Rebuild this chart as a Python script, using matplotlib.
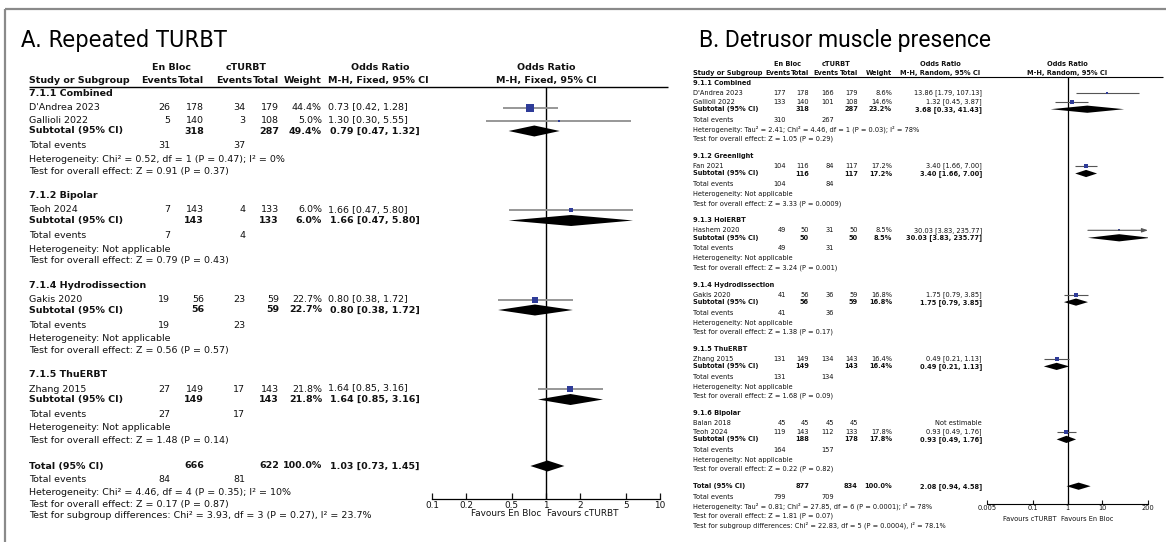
import os
import matplotlib
matplotlib.use("Agg")
import matplotlib.pyplot as plt
import matplotlib.font_manager as fm
from matplotlib import transforms
from matplotlib.ticker import NullLocator
import numpy as np

# ---------------- Panel A data : Repeated TURBT ----------------
A_title = "A. Repeated TURBT"
A_arms = ["En Bloc", "cTURBT"]
A_method = "M-H, Fixed, 95% CI"
A_groups = ["7.1.1 Combined", "7.1.2 Bipolar", "7.1.4 Hydrodissection", "7.1.5 ThuERBT"]
A_studies = ["D'Andrea 2023", "Gallioli 2022", "Teoh 2024", "Gakis 2020", "Zhang 2015"]
A_study_group = [0, 0, 1, 2, 3]
A_ev_e = [26, 5, 7, 19, 27]
A_n_e = [178, 140, 143, 56, 149]
A_ev_c = [34, 3, 4, 23, 17]
A_n_c = [179, 108, 133, 59, 143]
A_weight = [44.4, 5.0, 6.0, 22.7, 21.8]
A_or = [0.73, 1.30, 1.66, 0.80, 1.64]
A_lo = [0.42, 0.30, 0.47, 0.38, 0.85]
A_hi = [1.28, 5.55, 5.80, 1.72, 3.16]
A_sub_n_e = [318, 143, 56, 149]
A_sub_n_c = [287, 133, 59, 143]
A_sub_weight = [49.4, 6.0, 22.7, 21.8]
A_sub_or = [0.79, 1.66, 0.80, 1.64]
A_sub_lo = [0.47, 0.47, 0.38, 0.85]
A_sub_hi = [1.32, 5.80, 1.72, 3.16]
A_sub_ev_e = [31, 7, 19, 27]
A_sub_ev_c = [37, 4, 23, 17]
A_sub_het = ["Heterogeneity: Chi² = 0.52, df = 1 (P = 0.47); I² = 0%",
             "Heterogeneity: Not applicable",
             "Heterogeneity: Not applicable",
             "Heterogeneity: Not applicable"]
A_sub_test = ["Test for overall effect: Z = 0.91 (P = 0.37)",
              "Test for overall effect: Z = 0.79 (P = 0.43)",
              "Test for overall effect: Z = 0.56 (P = 0.57)",
              "Test for overall effect: Z = 1.48 (P = 0.14)"]
A_tot_n = [666, 622]
A_tot_weight = 100.0
A_tot_or = [1.03, 0.73, 1.45]
A_tot_ev = [84, 81]
A_tot_lines = ["Heterogeneity: Chi² = 4.46, df = 4 (P = 0.35); I² = 10%",
               "Test for overall effect: Z = 0.17 (P = 0.87)",
               "Test for subgroup differences: Chi² = 3.93, df = 3 (P = 0.27), I² = 23.7%"]
A_xlim = [0.1, 10]
A_ticks = [0.1, 0.2, 0.5, 1, 2, 5, 10]
A_ticklabels = ["0.1", "0.2", "0.5", "1", "2", "5", "10"]
A_favours = ["Favours En Bloc", "Favours cTURBT"]

# ---------------- Panel B data : Detrusor muscle presence ----------------
B_title = "B. Detrusor muscle presence"
B_arms = ["En Bloc", "cTURBT"]
B_method = "M-H, Random, 95% CI"
B_groups = ["9.1.1 Combined", "9.1.2 Greenlight", "9.1.3 HolERBT",
            "9.1.4 Hydrodissection", "9.1.5 ThuERBT", "9.1.6 Bipolar"]
B_studies = ["D'Andrea 2023", "Gallioli 2022", "Fan 2021", "Hashem 2020",
             "Gakis 2020", "Zhang 2015", "Balan 2018", "Teoh 2024"]
B_study_group = [0, 0, 1, 2, 3, 4, 5, 5]
B_ev_e = [177, 133, 104, 49, 41, 131, 45, 119]
B_n_e = [178, 140, 116, 50, 56, 149, 45, 143]
B_ev_c = [166, 101, 84, 31, 36, 134, 45, 112]
B_n_c = [179, 108, 117, 50, 59, 143, 45, 133]
B_weight = [8.6, 14.6, 17.2, 8.5, 16.8, 16.4, None, 17.8]
B_or = [13.86, 1.32, 3.40, 30.03, 1.75, 0.49, None, 0.93]
B_lo = [1.79, 0.45, 1.66, 3.83, 0.79, 0.21, None, 0.49]
B_hi = [107.13, 3.87, 7.00, 235.77, 3.85, 1.13, None, 1.76]
B_sub_n_e = [318, 116, 50, 56, 149, 188]
B_sub_n_c = [287, 117, 50, 59, 143, 178]
B_sub_weight = [23.2, 17.2, 8.5, 16.8, 16.4, 17.8]
B_sub_or = [3.68, 3.40, 30.03, 1.75, 0.49, 0.93]
B_sub_lo = [0.33, 1.66, 3.83, 0.79, 0.21, 0.49]
B_sub_hi = [41.43, 7.00, 235.77, 3.85, 1.13, 1.76]
B_sub_ev_e = [310, 104, 49, 41, 131, 164]
B_sub_ev_c = [267, 84, 31, 36, 134, 157]
B_sub_het = ["Heterogeneity: Tau² = 2.41; Chi² = 4.46, df = 1 (P = 0.03); I² = 78%",
             "Heterogeneity: Not applicable",
             "Heterogeneity: Not applicable",
             "Heterogeneity: Not applicable",
             "Heterogeneity: Not applicable",
             "Heterogeneity: Not applicable"]
B_sub_test = ["Test for overall effect: Z = 1.05 (P = 0.29)",
              "Test for overall effect: Z = 3.33 (P = 0.0009)",
              "Test for overall effect: Z = 3.24 (P = 0.001)",
              "Test for overall effect: Z = 1.38 (P = 0.17)",
              "Test for overall effect: Z = 1.68 (P = 0.09)",
              "Test for overall effect: Z = 0.22 (P = 0.82)"]
B_tot_n = [877, 834]
B_tot_weight = 100.0
B_tot_or = [2.08, 0.94, 4.58]
B_tot_ev = [799, 709]
B_tot_lines = ["Heterogeneity: Tau² = 0.81; Chi² = 27.85, df = 6 (P = 0.0001); I² = 78%",
               "Test for overall effect: Z = 1.81 (P = 0.07)",
               "Test for subgroup differences: Chi² = 22.83, df = 5 (P = 0.0004), I² = 78.1%"]
B_xlim = [0.005, 200]
B_ticks = [0.005, 0.1, 1, 10, 200]
B_ticklabels = ["0.005", "0.1", "1", "10", "200"]
B_favours = ["Favours cTURBT", "Favours En Bloc"]

# ---------------- figure ----------------
W, H = 1166, 542
fig = plt.figure(figsize=(W / 100, H / 100), dpi=100)
fig.patch.set_facecolor("white")
bg = fig.add_axes([0, 0, 1, 1])
bg.set_xlim(0, W)
bg.set_ylim(H, 0)
bg.axis("off")

# frame of the slide
bg.plot([5, W], [9, 9], color="#8a8a8a", lw=1.6, solid_capstyle="butt")
bg.plot([5, 5], [9, H], color="#8a8a8a", lw=1.6, solid_capstyle="butt")

BLUE = "#2E3B98"


def condensed_font_path():
    found = []
    for f in fm.fontManager.ttflist:
        low = os.path.basename(f.fname).lower()
        if any(k in low for k in ("mono", "serif", "italic", "oblique", "bold", "light", "thin",
                                  "medium", "black", "semi", "extra", "ultra", "cjk")):
            continue
        if "narrow" in low or "condensed" in low:
            found.append(f.fname)
    found.sort()
    return found[0] if found else None


def fitted_title(x, y, s, target_w, fp):
    t = bg.text(x, y, s, ha="left", va="center", fontproperties=fp, color="black")
    r = fig.canvas.get_renderer()
    w = t.get_window_extent(renderer=r).width
    if w > 0:
        fp2 = fp.copy()
        fp2.set_size(fp.get_size() * target_w / w)
        t.set_fontproperties(fp2)
    return t


def fmt_or(o, l, h):
    return f"{o:.2f} [{l:.2f}, {h:.2f}]"


def build_rows(start, inc, study_group, n_groups):
    y = start
    R = dict(title=[], study=[None] * len(study_group), sub=[], te=[], het=[], test=[], tot=[])
    for g in range(n_groups):
        if g > 0:
            y += inc["test_title"]
        R["title"].append(y)
        idx = [i for i, sg in enumerate(study_group) if sg == g]
        for k, i in enumerate(idx):
            y += inc["title_study"] if k == 0 else inc["study_study"]
            R["study"][i] = y
        y += inc["study_sub"]; R["sub"].append(y)
        y += inc["sub_te"]; R["te"].append(y)
        y += inc["te_het"]; R["het"].append(y)
        y += inc["het_test"]; R["test"].append(y)
    y += inc["test_total"]; R["tot"].append(y)
    for key in ["total_te", "total_het", "total_test", "total_subgr"]:
        y += inc[key]; R["tot"].append(y)
    return R


def draw_panel(P, D):
    R = build_rows(P["start"], P["inc"], D["study_group"], len(D["groups"]))
    C = P["cols"]

    def T(x, y, s, ha="left", bold=False, size=None):
        bg.text(x, y, s, ha=ha, va="center", fontsize=size or P["fs"],
                fontweight="bold" if bold else "normal",
                family=P["fam"], color="#111111")

    # panel title
    if P["title_fit"]:
        path = condensed_font_path()
        if path:
            fp = fm.FontProperties(fname=path, size=P["title_fs"])
        else:
            fp = fm.FontProperties(family="Liberation Sans", size=P["title_fs"])
        fitted_title(P["title_xy"][0], P["title_xy"][1], D["title"], P["title_w"], fp)
    else:
        bg.text(P["title_xy"][0], P["title_xy"][1], D["title"], ha="left", va="center",
                fontsize=P["title_fs"], family=P["title_fam"], color="black")

    # table header
    h1, h2 = P["head_y"]
    T(C["grp_e"], h1, D["arms"][0], ha="center", bold=True)
    T(C["grp_c"], h1, D["arms"][1], ha="center", bold=True)
    T(C["or_head"], h1, "Odds Ratio", ha="center", bold=True)
    T(C["study"], h2, "Study or Subgroup", bold=True)
    T(C["ev_e"] + C["hoff"], h2, "Events", ha="right", bold=True)
    T(C["n_e"], h2, "Total", ha="right", bold=True)
    T(C["ev_c"] + C["hoff"], h2, "Events", ha="right", bold=True)
    T(C["n_c"], h2, "Total", ha="right", bold=True)
    T(C["w"], h2, "Weight", ha="right", bold=True)
    T(C["or_hx"], h2, D["method"], ha=C["or_ha"], bold=True)
    bg.plot([C["study"], P["rule_x1"]], [P["rule_y"], P["rule_y"]], color="black",
            lw=P["rule_lw"], solid_capstyle="butt")

    # forest axes (pixel y coordinates, log odds-ratio x)
    x0, x1 = P["fx"]
    y0, y1 = P["rule_y"], P["axis_y"]
    ax = fig.add_axes([x0 / W, 1 - y1 / H, (x1 - x0) / W, (y1 - y0) / H])
    ax.patch.set_alpha(0)
    ax.set_xscale("log")
    ax.set_xlim(*D["xlim"])
    ax.set_ylim(y1, y0)
    for sp in ["top", "left", "right"]:
        ax.spines[sp].set_visible(False)
    ax.spines["bottom"].set_linewidth(P["axis_lw"])
    ax.set_yticks([])
    ax.set_xticks(D["ticks"])
    ax.set_xticklabels(D["ticklabels"])
    ax.xaxis.set_minor_locator(NullLocator())
    ax.tick_params(axis="x", direction="in", length=P["ticklen"], width=P["axis_lw"],
                   pad=P["tickpad"], labelsize=P["tickfs"], colors="#111111")
    for lbl in ax.get_xticklabels():
        lbl.set_family(P["fam"])
    ax.axvline(1, color="black", lw=P["vlw"])

    ax.text(1, h1, "Odds Ratio", ha="center", va="center", fontsize=P["fs"],
            fontweight="bold", family=P["fam"], color="#111111", clip_on=False)
    ax.text(1, h2, D["method"], ha="center", va="center", fontsize=P["fs"],
            fontweight="bold", family=P["fam"], color="#111111", clip_on=False)
    tl = transforms.offset_copy(ax.transData, fig=fig, x=P["fav_dx"][0], y=0, units="dots")
    tr = transforms.offset_copy(ax.transData, fig=fig, x=P["fav_dx"][1], y=0, units="dots")
    ax.text(1, P["fav_y"], D["favours"][0], ha="right", va="center", fontsize=P["tickfs"],
            family=P["fam"], transform=tl, clip_on=False, color="#111111")
    ax.text(1, P["fav_y"], D["favours"][1], ha="left", va="center", fontsize=P["tickfs"],
            family=P["fam"], transform=tr, clip_on=False, color="#111111")

    def diamond(est, lo, hi, y, hh):
        ax.fill([lo, est, hi, est], [y, y - hh, y, y + hh], color="black", lw=0)

    # groups
    for g, name in enumerate(D["groups"]):
        T(C["study"], R["title"][g], name, bold=True)
        for i, sg in enumerate(D["study_group"]):
            if sg != g:
                continue
            y = R["study"][i]
            T(C["study"], y, D["studies"][i])
            T(C["ev_e"], y, str(D["ev_e"][i]), ha="right")
            T(C["n_e"], y, str(D["n_e"][i]), ha="right")
            T(C["ev_c"], y, str(D["ev_c"][i]), ha="right")
            T(C["n_c"], y, str(D["n_c"][i]), ha="right")
            if D["or"][i] is None:
                T(C["or_x"], y, "Not estimable", ha=C["or_ha"])
                continue
            T(C["w"], y, f"{D['weight'][i]:.1f}%", ha="right")
            T(C["or_x"], y, fmt_or(D["or"][i], D["lo"][i], D["hi"][i]), ha=C["or_ha"])
            lo = max(D["lo"][i], D["xlim"][0])
            hi = min(D["hi"][i], D["xlim"][1])
            if D["hi"][i] > D["xlim"][1]:
                ax.annotate("", xy=(hi, y), xytext=(lo, y),
                            arrowprops=dict(arrowstyle="-|>,head_length=0.35,head_width=0.12",
                                            color=P["ci_col"], lw=P["ci_lw"],
                                            shrinkA=0, shrinkB=0))
            else:
                ax.plot([lo, hi], [y, y], color=P["ci_col"], lw=P["ci_lw"],
                        solid_capstyle="butt", clip_on=False)
            side = P["sq_k"] * np.sqrt(D["weight"][i])
            ax.plot([D["or"][i]], [y], marker="s", ms=side * 0.72, color=BLUE,
                    mec=BLUE, mew=0, ls="none", clip_on=False)
        y = R["sub"][g]
        T(C["study"], y, "Subtotal (95% CI)", bold=True)
        T(C["n_e"], y, str(D["sub_n_e"][g]), ha="right", bold=True)
        T(C["n_c"], y, str(D["sub_n_c"][g]), ha="right", bold=True)
        T(C["w"], y, f"{D['sub_weight'][g]:.1f}%", ha="right", bold=True)
        T(C["or_x"] + C["bold_dx"], y, fmt_or(D["sub_or"][g], D["sub_lo"][g], D["sub_hi"][g]),
          ha=C["or_ha"], bold=True)
        diamond(D["sub_or"][g], D["sub_lo"][g], D["sub_hi"][g], y, P["dh"])
        y = R["te"][g]
        T(C["study"], y, "Total events")
        T(C["ev_e"], y, str(D["sub_ev_e"][g]), ha="right")
        T(C["ev_c"], y, str(D["sub_ev_c"][g]), ha="right")
        T(C["study"], R["het"][g], D["sub_het"][g])
        T(C["study"], R["test"][g], D["sub_test"][g])

    # overall
    y = R["tot"][0]
    T(C["study"], y, "Total (95% CI)", bold=True)
    T(C["n_e"], y, str(D["tot_n"][0]), ha="right", bold=True)
    T(C["n_c"], y, str(D["tot_n"][1]), ha="right", bold=True)
    T(C["w"], y, f"{D['tot_weight']:.1f}%", ha="right", bold=True)
    T(C["or_x"] + C["bold_dx"], y, fmt_or(*D["tot_or"]), ha=C["or_ha"], bold=True)
    diamond(D["tot_or"][0], D["tot_or"][1], D["tot_or"][2], y, P["dh"])
    y = R["tot"][1]
    T(C["study"], y, "Total events")
    T(C["ev_e"], y, str(D["tot_ev"][0]), ha="right")
    T(C["ev_c"], y, str(D["tot_ev"][1]), ha="right")
    for k, line in enumerate(D["tot_lines"]):
        T(C["study"], R["tot"][2 + k], line)


DA = dict(title=A_title, arms=A_arms, method=A_method, groups=A_groups, studies=A_studies,
          study_group=A_study_group, ev_e=A_ev_e, n_e=A_n_e, ev_c=A_ev_c, n_c=A_n_c,
          weight=A_weight, **{"or": A_or}, lo=A_lo, hi=A_hi, sub_n_e=A_sub_n_e,
          sub_n_c=A_sub_n_c, sub_weight=A_sub_weight, sub_or=A_sub_or, sub_lo=A_sub_lo,
          sub_hi=A_sub_hi, sub_ev_e=A_sub_ev_e, sub_ev_c=A_sub_ev_c, sub_het=A_sub_het,
          sub_test=A_sub_test, tot_n=A_tot_n, tot_weight=A_tot_weight, tot_or=A_tot_or,
          tot_ev=A_tot_ev, tot_lines=A_tot_lines, xlim=A_xlim, ticks=A_ticks,
          ticklabels=A_ticklabels, favours=A_favours)
DB = dict(title=B_title, arms=B_arms, method=B_method, groups=B_groups, studies=B_studies,
          study_group=B_study_group, ev_e=B_ev_e, n_e=B_n_e, ev_c=B_ev_c, n_c=B_n_c,
          weight=B_weight, **{"or": B_or}, lo=B_lo, hi=B_hi, sub_n_e=B_sub_n_e,
          sub_n_c=B_sub_n_c, sub_weight=B_sub_weight, sub_or=B_sub_or, sub_lo=B_sub_lo,
          sub_hi=B_sub_hi, sub_ev_e=B_sub_ev_e, sub_ev_c=B_sub_ev_c, sub_het=B_sub_het,
          sub_test=B_sub_test, tot_n=B_tot_n, tot_weight=B_tot_weight, tot_or=B_tot_or,
          tot_ev=B_tot_ev, tot_lines=B_tot_lines, xlim=B_xlim, ticks=B_ticks,
          ticklabels=B_ticklabels, favours=B_favours)

PA = dict(
    start=93.0,
    inc=dict(title_study=14.5, study_study=13.0, study_sub=10.5, sub_te=15.0, te_het=13.5,
             het_test=12.0, test_title=24.0, test_total=26.0, total_te=14.0,
             total_het=12.5, total_test=11.5, total_subgr=11.0),
    fs=6.8, fam="DejaVu Sans",
    title_xy=(21, 41), title_fs=19.0, title_fit=True, title_w=205, title_fam=None,
    head_y=(67, 80.5), rule_y=86.5, rule_x1=668, rule_lw=1.0,
    cols=dict(study=29, ev_e=170, n_e=204, ev_c=245, n_c=279, w=322, or_x=328, or_hx=328,
              or_ha="left", hoff=7, bold_dx=2, grp_e=171, grp_c=246, or_head=380),
    fx=(432, 660), axis_y=499, axis_lw=0.9, ticklen=4, tickpad=1.5, tickfs=6.4,
    vlw=1.0, fav_y=514, fav_dx=(-5, 1),
    ci_col="#8f8f8f", ci_lw=1.3, sq_k=1.25, dh=5.5,
)
PB = dict(
    start=83.0,
    inc=dict(title_study=10.0, study_study=8.7, study_sub=7.5, sub_te=10.5, te_het=10.0,
             het_test=9.3, test_title=17.0, test_total=17.0, total_te=10.5,
             total_het=10.0, total_test=9.3, total_subgr=9.3),
    fs=4.8, fam="DejaVu Sans",
    title_xy=(699, 40), title_fs=16.5, title_fit=False, title_w=None, title_fam="Roboto",
    head_y=(64, 73.3), rule_y=77.3, rule_x1=1163, rule_lw=0.8,
    cols=dict(study=693, ev_e=786, n_e=809, ev_c=834, n_c=858, w=892, or_x=982, or_hx=980,
              or_ha="right", hoff=4, bold_dx=0, grp_e=787, grp_c=836, or_head=940),
    fx=(987, 1148), axis_y=504, axis_lw=0.8, ticklen=3, tickpad=1.0, tickfs=4.8,
    vlw=0.9, fav_y=519, fav_dx=(-11, -6.5),
    ci_col="#555555", ci_lw=0.8, sq_k=0.85, dh=3.6,
)

draw_panel(PA, DA)
draw_panel(PB, DB)

fig.savefig("out.png", dpi=100, facecolor="white")
